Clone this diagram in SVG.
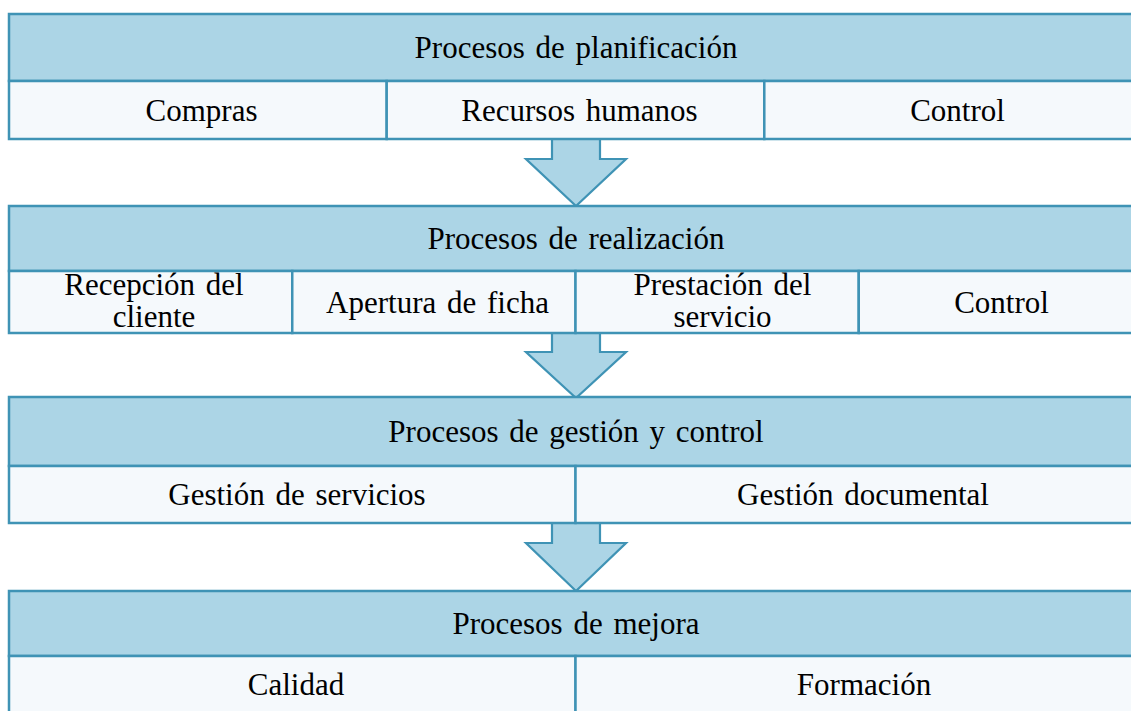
<svg xmlns="http://www.w3.org/2000/svg" width="1131" height="711" viewBox="0 0 1131 711">
<style>
.hd{fill:#acd5e6;stroke:#3f93b5;stroke-width:2.5}
.cl{fill:#f5f9fc;stroke:#3f93b5;stroke-width:2.5}
.ar{fill:#acd5e6;stroke:#3f93b5;stroke-width:2.2;stroke-linejoin:miter}
text{font-family:"Liberation Serif","Times New Roman",serif;font-size:31px;fill:#000;text-anchor:middle;word-spacing:3px}
</style>
<rect width="1131" height="711" fill="#fff"/>
<g id="connectors">
<path class="ar" d="M552,139 V159 H526 L576,206 L626,159 H600 V139"/>
<path class="ar" d="M552,333 V352 H526 L576,398 L626,352 H600 V333"/>
<path class="ar" d="M552,523 V543 H526 L576,591 L626,543 H600 V523"/>
</g>
<g id="planificacion">
<rect class="hd" x="9" y="14" width="1133" height="67"/>
<rect class="cl" x="9" y="81" width="377.7" height="58"/>
<rect class="cl" x="386.7" y="81" width="377.6" height="58"/>
<rect class="cl" x="764.3" y="81" width="377.7" height="58"/>
<text x="576" y="58">Procesos de planificación</text>
<text x="201.5" y="120.5">Compras</text>
<text x="579.5" y="120.5">Recursos humanos</text>
<text x="957.5" y="120.5">Control</text>
</g>
<g id="realizacion">
<rect class="hd" x="9" y="206" width="1133" height="65"/>
<rect class="cl" x="9" y="271" width="283.25" height="62"/>
<rect class="cl" x="292.25" y="271" width="283.25" height="62"/>
<rect class="cl" x="575.5" y="271" width="283.25" height="62"/>
<rect class="cl" x="858.75" y="271" width="283.25" height="62"/>
<text x="576" y="249">Procesos de realización</text>
<text x="154" y="295">Recepción del</text>
<text x="154" y="326.5">cliente</text>
<text x="437.5" y="313">Apertura de ficha</text>
<text x="722.5" y="295">Prestación del</text>
<text x="722.5" y="326.5">servicio</text>
<text x="1001.5" y="313">Control</text>
</g>
<g id="gestion">
<rect class="hd" x="9" y="397" width="1133" height="69"/>
<rect class="cl" x="9" y="466" width="566.5" height="57"/>
<rect class="cl" x="575.5" y="466" width="566.5" height="57"/>
<text x="576" y="442">Procesos de gestión y control</text>
<text x="297" y="505">Gestión de servicios</text>
<text x="863" y="505">Gestión documental</text>
</g>
<g id="mejora">
<rect class="hd" x="9" y="591" width="1133" height="65"/>
<rect class="cl" x="9" y="656" width="566.5" height="62"/>
<rect class="cl" x="575.5" y="656" width="566.5" height="62"/>
<text x="576" y="634">Procesos de mejora</text>
<text x="296" y="695">Calidad</text>
<text x="864" y="695">Formación</text>
</g>
</svg>
